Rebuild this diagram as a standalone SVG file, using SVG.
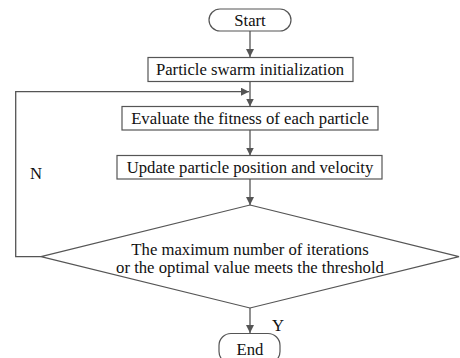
<svg xmlns="http://www.w3.org/2000/svg" width="460" height="358" viewBox="0 0 460 358">
<style>
.box{fill:#fff;stroke:#555;stroke-width:1.2}
.ln{fill:none;stroke:#555;stroke-width:1.3}
text{font-family:'Liberation Serif','Times New Roman','DejaVu Serif',serif;font-size:16.7px;fill:#111}
.t{text-anchor:middle}
</style>
<defs>
<marker id="ah" markerWidth="8" markerHeight="8" refX="8" refY="4" orient="auto" markerUnits="userSpaceOnUse">
<path d="M0,0 L8,4 L0,8 Z" fill="#555"/>
</marker>
</defs>
<rect width="460" height="358" fill="#fff"/>
<g id="connectors">
<line class="ln" x1="250" y1="31" x2="250" y2="57" marker-end="url(#ah)"/>
<line class="ln" x1="250" y1="81.5" x2="250" y2="106.5" marker-end="url(#ah)"/>
<line class="ln" x1="250" y1="130" x2="250" y2="155.5" marker-end="url(#ah)"/>
<line class="ln" x1="250" y1="179" x2="250" y2="205" marker-end="url(#ah)"/>
<line class="ln" x1="250" y1="308" x2="250" y2="333" marker-end="url(#ah)"/>
<polyline class="ln" points="41,256.7 15.7,256.7 15.7,91.7 249,91.7" marker-end="url(#ah)"/>
<text x="30" y="179" font-family="Liberation Serif, serif">N</text>
<text x="272" y="331" font-family="Liberation Serif, serif">Y</text>
</g>
<g id="start">
<rect class="box" x="209" y="9" width="82" height="22" rx="11"/>
<text class="t" x="250" y="26" font-family="Liberation Serif, serif">Start</text>
</g>
<g id="init">
<rect class="box" x="148" y="57.5" width="205" height="24"/>
<text class="t" x="250" y="75" font-family="Liberation Serif, serif">Particle swarm initialization</text>
</g>
<g id="evaluate">
<rect class="box" x="122" y="106.5" width="256" height="23.5"/>
<text class="t" x="250" y="124" font-family="Liberation Serif, serif">Evaluate the fitness of each particle</text>
</g>
<g id="update">
<rect class="box" x="117" y="155.5" width="265" height="23.5"/>
<text class="t" x="250" y="173" font-family="Liberation Serif, serif">Update particle position and velocity</text>
</g>
<g id="decision">
<polygon class="box" points="250,205 459,256.7 250,308 41,256.7"/>
<text class="t" x="250" y="255" font-family="Liberation Serif, serif">The maximum number of iterations</text>
<text class="t" x="250" y="273" font-family="Liberation Serif, serif">or the optimal value meets the threshold</text>
</g>
<g id="end">
<rect class="box" x="219" y="333.5" width="61" height="30" rx="12"/>
<text class="t" x="250" y="355" font-family="Liberation Serif, serif">End</text>
</g>
</svg>
